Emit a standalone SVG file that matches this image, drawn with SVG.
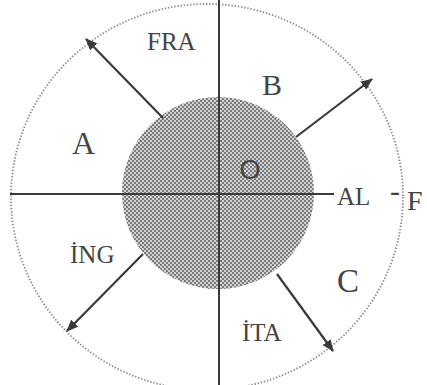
<svg xmlns="http://www.w3.org/2000/svg" width="427" height="385" viewBox="0 0 427 385">
<style>
.lbl{font-family:"Liberation Serif","Times New Roman",serif;fill:#444}
.ln{stroke:#3a3a3a;stroke-width:2;fill:none}
.arr{stroke:#3a3a3a;stroke-width:2.2;fill:none;marker-end:url(#ah)}
</style>
<defs>
<marker id="ah" markerWidth="12" markerHeight="10" refX="11" refY="5" orient="auto" markerUnits="userSpaceOnUse">
<path d="M0,0 L12,5 L0,10 Z" fill="#3a3a3a"/>
</marker>
<pattern id="dots" width="4" height="4" patternUnits="userSpaceOnUse">
<rect width="4" height="4" fill="#d2d2d2"/>
<rect x="0" y="0" width="2" height="2" fill="#7c7c7c"/>
<rect x="2" y="2" width="2" height="2" fill="#7c7c7c"/>
</pattern>
</defs>
<rect width="427" height="385" fill="#fff"/>
<g id="outer-circle">
<ellipse cx="207" cy="197" rx="196" ry="193" fill="none" stroke="#8a8a8a" stroke-width="1.8" stroke-dasharray="1.4 1.8"/>
</g>
<g id="inner-disc">
<circle cx="218" cy="193" r="96" fill="url(#dots)"/>
</g>
<g id="connectors">
<line class="ln" x1="10" y1="194" x2="334" y2="194"/>
<line class="ln" x1="219" y1="0" x2="219" y2="385"/>
<line class="arr" x1="163" y1="118" x2="86" y2="39"/>
<line class="arr" x1="296" y1="137" x2="372" y2="79"/>
<line class="arr" x1="143" y1="254" x2="67" y2="331"/>
<line class="arr" x1="277" y1="274" x2="333" y2="351"/>
</g>
<g id="labels">
<text class="lbl" x="147" y="50" font-size="25">FRA</text>
<text class="lbl" x="262" y="95" font-size="30">B</text>
<text class="lbl" x="72" y="154" font-size="32">A</text>
<text class="lbl" x="337" y="205" font-size="25">AL</text>
<text class="lbl" x="390" y="201" font-size="30">-</text>
<text class="lbl" x="407" y="210" font-size="28">F</text>
<text class="lbl" x="70" y="263" font-size="25">İNG</text>
<text class="lbl" x="337" y="292" font-size="33">C</text>
<text class="lbl" x="242" y="341" font-size="25">İTA</text>
<text x="250" y="179" font-size="27" text-anchor="middle" font-family="Liberation Sans, Arial, sans-serif" fill="#444">O</text>
</g>
</svg>
